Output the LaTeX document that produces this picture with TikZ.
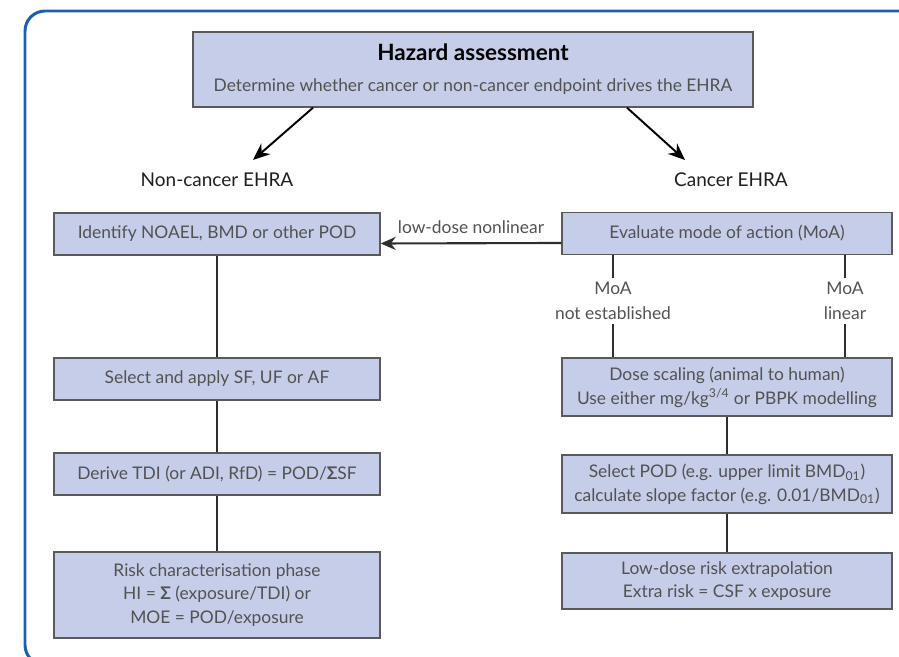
\documentclass[tikz,border=0pt]{standalone}
\usepackage{fontspec}
\setmainfont{Lato}
\usetikzlibrary{arrows.meta, positioning}
\definecolor{frameBlue}{HTML}{1E5EAE}
\definecolor{boxFill}{HTML}{C6CDE8}
\definecolor{boxLine}{HTML}{5A5A5A}
\definecolor{txtGrey}{HTML}{525252}
\definecolor{linkGrey}{HTML}{2E2E2E}

\begin{document}
\begin{tikzpicture}[
   stepbox/.style={rectangle, draw=boxLine, line width=0.8pt, fill=boxFill,
                   minimum width=6.52cm, minimum height=0.84cm, inner sep=1mm,
                   align=center, text=txtGrey,
                   font=\fontsize{9.9}{13.5}\selectfont},
   headbox/.style={stepbox, minimum width=11.2cm, minimum height=1.5cm},
   branch/.style={text=black!88, font=\fontsize{10.8}{13}\selectfont},
   moalabel/.style={align=center, text=txtGrey, inner sep=2.5pt,
                    font=\fontsize{9.9}{14}\selectfont},
   link/.style={draw=linkGrey, line width=1.2pt},
   bigarr/.style={-{Stealth[length=3.4mm, width=2.8mm]}, black, line width=1.1pt}]

\useasboundingbox (0,0) rectangle (17.98,-13.14);
\draw[frameBlue, line width=1.7pt, rounded corners=0.4cm]
  (0.5,-0.22) rectangle (19.2,-13.3);

% top of the tree
\node[headbox] (haz) at (9.46,-1.39)
  {{\fontsize{12.8}{15}\selectfont\bfseries\color{black} Hazard assessment}\\[4pt]
   Determine whether cancer or non-cancer endpoint drives the EHRA};

\node[branch] (noncan) at (4.34,-3.6) {Non-cancer EHRA};
\node[branch] (can) at (14.62,-3.6) {Cancer EHRA};

\draw[bigarr] ([xshift=-3.2cm]haz.south) -- ([xshift=0.72cm,yshift=0.4cm]noncan.center);
\draw[bigarr] ([xshift=3.08cm]haz.south) -- ([xshift=-0.92cm,yshift=0.4cm]can.center);

% non-cancer column
\node[stepbox] (identify) at (4.34,-4.68) {Identify NOAEL, BMD or other POD};
\node[stepbox] (selectsf) at (4.34,-7.58) {Select and apply SF, UF or AF};
\node[stepbox] (derive) at (4.34,-9.48)
  {Derive TDI (or ADI, RfD) = POD/\textbf{Σ}SF};
\node[stepbox, minimum height=1.72cm] (riskchar) at (4.34,-11.9)
  {Risk characterisation phase\\ HI = \textbf{Σ} (exposure/TDI) or\\ MOE = POD/exposure};

% cancer column
\node[stepbox, minimum width=6.6cm] (evaluate) at (14.54,-4.67)
  {Evaluate mode of action (MoA)};
\node[stepbox, minimum width=6.6cm, minimum height=1.16cm] (dosescale) at (14.54,-7.74)
  {Dose scaling (animal to human)\\ Use either mg/kg\textsuperscript{3/4} or PBPK modelling};
\node[stepbox, minimum width=6.6cm, minimum height=1.16cm] (selectpod) at (14.54,-9.68)
  {Select POD (e.g. upper limit BMD\textsubscript{01})\\
   calculate slope factor (e.g. 0.01/BMD\textsubscript{01})};
\node[stepbox, minimum width=6.6cm, minimum height=1.12cm] (lowdose) at (14.54,-11.62)
  {Low-dose risk extrapolation\\ Extra risk = CSF x exposure};

\node[moalabel] (moane) at (12.26,-6.02) {MoA\\ not established};
\node[moalabel] (moalin) at (16.9,-6.02) {MoA\\ linear};

% connectors
\draw[link] (identify) -- (selectsf);
\draw[link] (selectsf) -- (derive);
\draw[link] (derive) -- (riskchar);
\draw[link] (moane |- evaluate.south) -- (moane.north);
\draw[link] (moane.south) -- (moane |- dosescale.north);
\draw[link] (moalin |- evaluate.south) -- (moalin.north);
\draw[link] (moalin.south) -- (moalin |- dosescale.north);
\draw[link] (dosescale) -- (selectpod);
\draw[link] (selectpod) -- (lowdose);

\draw[link, -{Stealth[length=3mm, width=2.6mm]}]
  ([yshift=-5.4pt]evaluate.west) -- ([yshift=-5.4pt]identify.east)
  node[midway, above=4pt, text=txtGrey, font=\fontsize{9.9}{12}\selectfont, inner sep=1pt]
  (lownl) {low-dose nonlinear};
\end{tikzpicture}
\end{document}
